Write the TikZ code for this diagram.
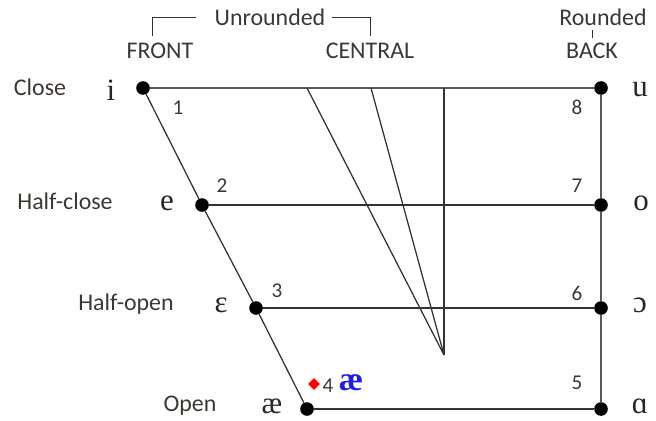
\documentclass[tikz,border=0pt]{standalone}
\usepackage{fontspec}
\setmainfont{Carlito}
\newfontfamily\ipafont{Liberation Serif}
\usepackage{tikz}
\usetikzlibrary{positioning, shapes}
\definecolor{labelgray}{RGB}{60, 55, 50}
\definecolor{ipablue}{RGB}{30, 30, 230}

\begin{document}
\begin{tikzpicture}[
    x=0.025cm, y=-0.025cm,
    dot/.style={circle, fill=black, inner sep=0pt, minimum size=0.34cm},
    line/.style={draw=black!80, line width=0.9pt},
    height/.style={font=\fontsize{17}{19}\selectfont, text=labelgray},
    place/.style={font=\fontsize{17}{19}\selectfont, text=labelgray},
    num/.style={font=\fontsize{15}{17}\selectfont, text=labelgray},
    vowel/.style={font=\ipafont\fontsize{22}{24}\selectfont, text=black!85}
]
    \useasboundingbox (0,0) rectangle (656,420);

    % Header
    \node[place] (unr) at (270, 17) {Unrounded};
    \node[place] (rnd) at (603, 17) {Rounded};
    \node[place] (front) at (160, 51) {FRONT};
    \node[place] (central) at (370, 51) {CENTRAL};
    \node[place] (back) at (592, 51) {BACK};
    \draw[line, line width=0.7pt] (152, 36) |- ([xshift=-0.35cm]unr.west);
    \draw[line, line width=0.7pt] ([xshift=0.05cm]unr.east) -| (370, 36);
    \draw[line, line width=0.7pt] (rnd.south -| back.north) -- (back.north);

    % Dots
    \node[dot] (i) at (143, 88) {};
    \node[dot] (u) at (601, 88) {};
    \node[dot] (e) at (202, 205) {};
    \node[dot] (o) at (601, 205) {};
    \node[dot] (eps) at (256, 308) {};
    \node[dot] (oo) at (601, 308) {};
    \node[dot] (ae) at (307, 409) {};
    \node[dot] (aa) at (601, 409) {};

    % Central lines
    \coordinate (c1) at (307, 88);
    \coordinate (c2) at (371, 88);
    \coordinate (c3) at (444, 88);
    \coordinate (apex) at (444, 355);

    % Outline
    \draw[line, line width=1.4pt, draw=black!65] (i) -- (u);
    \draw[line] (e) -- (o);
    \draw[line] (eps) -- (oo);
    \draw[line] (ae) -- (aa);
    \draw[line] (i) -- (e);
    \draw[line] (e) -- (eps);
    \draw[line] (eps) -- (ae);
    \draw[line, line width=1.4pt, draw=black!65] (u) -- (o);
    \draw[line, line width=1.4pt, draw=black!65] (o) -- (oo);
    \draw[line, line width=1.4pt, draw=black!65] (oo) -- (aa);
    \draw[line] (c1) -- (apex);
    \draw[line] (c2) -- (apex);
    \draw[line] (c3) -- (apex);

    % Heights
    \node[height] (close) at (40, 87) {Close};
    \node[height] (hclose) at (65, 201) {Half-close};
    \node[height] (hopen) at (126, 304) {Half-open};
    \node[height] (open) at (190, 406) {Open};

    % Vowels
    \node[vowel] (vi) at (111, 90) {i};
    \node[vowel] (ve) at (167, 203) {e};
    \node[vowel] (veps) at (221, 305) {ɛ};
    \node[vowel] (vae) at (272, 406) {æ};
    \node[vowel] (vu) at (640, 90) {u};
    \node[vowel] (vo) at (641, 203) {o};
    \node[vowel] (voo) at (640, 305) {ɔ};
    \node[vowel] (vaa) at (640, 406) {ɑ};

    % Numbers
    \node[num] (n1) at (178, 108) {1};
    \node[num] (n2) at (222, 186) {2};
    \node[num] (n3) at (277, 291) {3};
    \node[num] (n4) at (328, 386) {4};
    \node[num] (n5) at (577, 383) {5};
    \node[num] (n6) at (577, 293) {6};
    \node[num] (n7) at (577, 186) {7};
    \node[num] (n8) at (577, 107) {8};

    % Marked vowel
    \node[diamond, fill=red, inner sep=0pt, minimum size=0.3cm] (mark) at (314, 384) {};
    \node[vowel, text=ipablue, font=\ipafont\bfseries\fontsize{24}{26}\selectfont] (blueae) at (351, 383) {æ};
\end{tikzpicture}
\end{document}
